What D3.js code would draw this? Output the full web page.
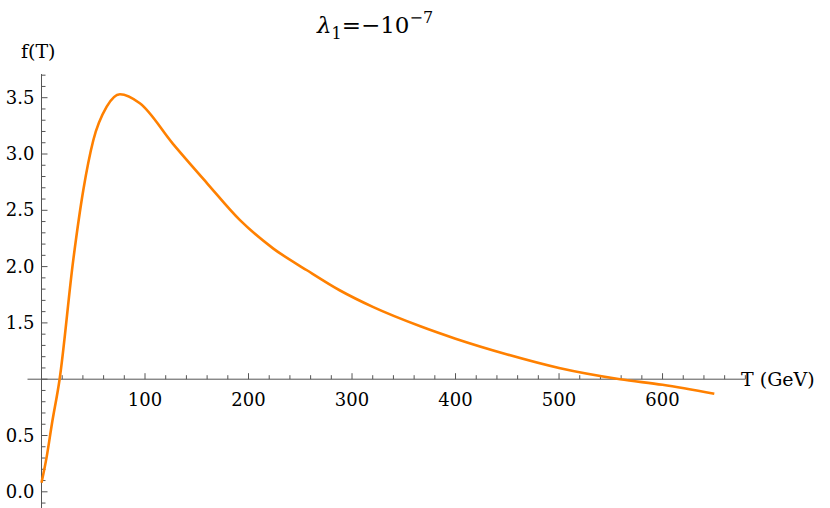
<!DOCTYPE html>
<html>
<head>
<meta charset="utf-8">
<script src="https://cdn.jsdelivr.net/npm/d3@7"></script>
<style>
  body { margin: 0; background: #fff; }
  text { font-family: "DejaVu Serif", serif; }
</style>
</head>
<body>
<div id="chart"></div>
<script>
const temps = [0, 5, 10, 17.5, 30.7, 40.4, 50, 63, 75.8, 95, 127, 160, 192, 224, 256, 288, 320.6, 366, 400, 450, 500, 559, 600, 650];
const fValues = [0.08, 0.31, 0.6, 1.0, 2.06, 2.68, 3.12, 3.42, 3.53, 3.45, 3.09, 2.74, 2.41, 2.16, 1.97, 1.79, 1.64, 1.47, 1.36, 1.22, 1.10, 1.0, 0.95, 0.87];
const xTicks = [100, 200, 300, 400, 500, 600];
const yTicks = [0, 0.5, 1.5, 2.0, 2.5, 3.0, 3.5];

const W = 830, H = 508;
const svg = d3.select("#chart").append("svg").attr("width", W).attr("height", H);

const x = d3.scaleLinear().domain([0, 650]).range([41.5, 714.3]);
const y = d3.scaleLinear().domain([0, 1]).range([491.8, 379.2]);
const axisColor = "#555";

// x axis at f = 1
const xg = svg.append("g").attr("transform", `translate(0,${y(1)})`);
xg.append("line").attr("x1", x(0) - 14).attr("x2", x(680)).attr("stroke", axisColor);
xg.selectAll(".minor").data(d3.range(20, 681, 20)).enter().append("line")
  .attr("x1", d => x(d)).attr("x2", d => x(d))
  .attr("y1", 0).attr("y2", d => d % 100 === 0 ? -6 : -4)
  .attr("stroke", axisColor);
xg.selectAll(".lab").data(xTicks).enter().append("text")
  .attr("x", d => x(d)).attr("y", 27).attr("text-anchor", "middle")
  .style("font-size", "18px").text(d => d);
svg.append("text").attr("x", 741).attr("y", y(1) + 7).style("font-size", "19px").text("T (GeV)");

// y axis at T = 0
const yg = svg.append("g").attr("transform", `translate(${x(0)},0)`);
yg.append("line").attr("y1", y(3.71)).attr("y2", H).attr("stroke", axisColor);
yg.selectAll(".minor").data(d3.range(-0.1, 3.75, 0.1).map(d => +d.toFixed(1))).enter().append("line")
  .attr("y1", d => y(d)).attr("y2", d => y(d))
  .attr("x1", 0).attr("x2", d => Math.round(d * 10) % 5 === 0 ? 6 : 4)
  .attr("stroke", axisColor);
yg.selectAll(".lab").data(yTicks).enter().append("text")
  .attr("x", -7).attr("y", d => y(d) + 6).attr("text-anchor", "end")
  .style("font-size", "18px").text(d => d.toFixed(1));
svg.append("text").attr("x", 21).attr("y", 58).style("font-size", "19px").text("f(T)");

// title
const title = svg.append("text").attr("x", 375).attr("y", 33).attr("text-anchor", "middle").style("font-size", "23px");
title.append("tspan").style("font-style", "italic").text("λ");
title.append("tspan").attr("dy", 6).style("font-size", "16px").text("1");
title.append("tspan").attr("dy", -6).text("=−10");
title.append("tspan").attr("dy", -10).style("font-size", "16px").text("−7");

// curve
const data = temps.map((t, i) => ({ t, f: fValues[i] }));
svg.append("path").datum(data)
  .attr("fill", "none").attr("stroke", "#ff8000").attr("stroke-width", 2.6)
  .attr("d", d3.line().x(d => x(d.t)).y(d => y(d.f)).curve(d3.curveMonotoneX));
</script>
</body>
</html>
